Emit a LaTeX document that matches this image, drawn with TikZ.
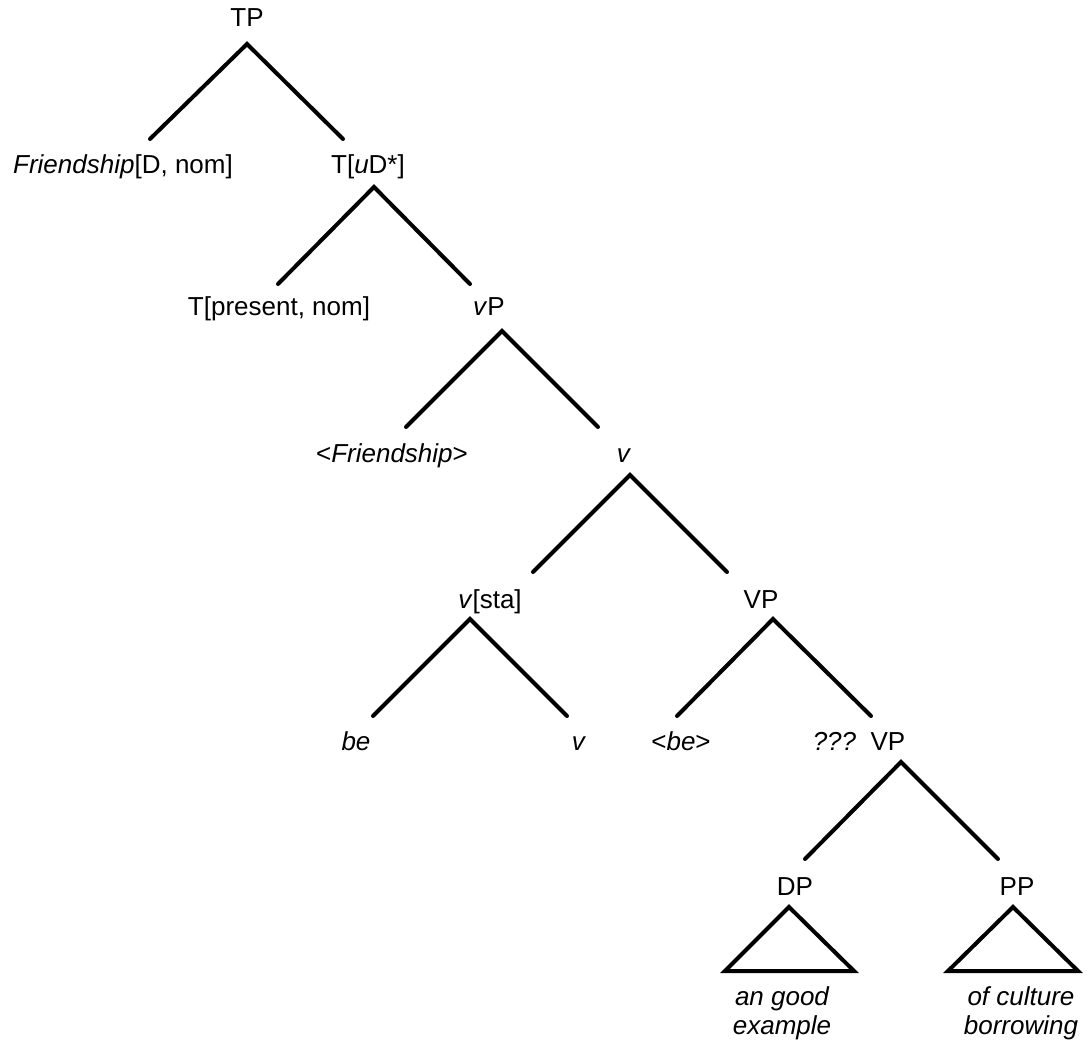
\documentclass[tikz,border=0pt]{standalone}
\usepackage{fontspec}
\setmainfont{Liberation Sans}
\begin{document}
\begin{tikzpicture}[x=1pt,y=-1pt,
  lbl/.style={anchor=base,inner sep=0pt,font=\fontsize{26}{29}\selectfont},
  leaf/.style={anchor=north,inner sep=0pt,align=center,font=\fontsize{26}{29}\selectfont\itshape},
  branch/.style={line width=4pt,line cap=round,line join=miter}]
\useasboundingbox (0,0) rectangle (1087,1044);

% ---- labels ----
\node[lbl] (tp)     at (247,27)  {TP};
\node[lbl] (fr)     at (123,173) {\textit{Friendship}[D, nom]};
\node[lbl] (tud)    at (368,173) {T[\textit{u}D*]};
\node[lbl] (tpres)  at (279,315) {T[present, nom]};
\node[lbl] (vp)     at (489,315) {\textit{v}P};
\node[lbl] (frt)    at (392,462) {<\textit{Friendship}>};
\node[lbl] (vbar)   at (624,462) {\textit{v}};
\node[lbl] (vsta)   at (490,608) {\textit{v}[sta]};
\node[lbl] (VPa)    at (761,608) {VP};
\node[lbl] (be)     at (356,750) {\textit{be}};
\node[lbl] (vleaf)  at (579,750) {\textit{v}};
\node[lbl] (bet)    at (681,750) {<\textit{be}>};
\node[lbl] (VPb)    at (859,750) {\textit{???}\ \ VP};
\node[lbl] (dp)     at (795,895) {DP};
\node[lbl] (pp)     at (1017,895) {PP};
\node[leaf] (dpt)   at (782,986) {an good\\example};
\node[leaf] (ppt)   at (1021,986) {of culture\\borrowing};

% ---- branch points ----
\coordinate (tp-a) at (247,44);   \coordinate (tp-l) at (150,139);  \coordinate (tp-r) at (343,139);
\coordinate (tud-a) at (374,187); \coordinate (tud-l) at (278,284); \coordinate (tud-r) at (470,284);
\coordinate (vp-a) at (502,331);  \coordinate (vp-l) at (406,427);  \coordinate (vp-r) at (598,427);
\coordinate (vb-a) at (630,475);  \coordinate (vb-l) at (533,572);  \coordinate (vb-r) at (727,572);
\coordinate (vs-a) at (470,619);  \coordinate (vs-l) at (373,716);  \coordinate (vs-r) at (567,716);
\coordinate (va-a) at (773,619);  \coordinate (va-l) at (677,716);  \coordinate (va-r) at (871,716);
\coordinate (vb2-a) at (901,762); \coordinate (vb2-l) at (805,859); \coordinate (vb2-r) at (998,859);
\coordinate (dp-a) at (789,907);  \coordinate (dp-l) at (725,971);  \coordinate (dp-r) at (854,971);
\coordinate (pp-a) at (1013,907); \coordinate (pp-l) at (948,971);  \coordinate (pp-r) at (1078,971);

% ---- branches ----
\draw[branch] (tp-l) -- (tp-a) -- (tp-r);
\draw[branch] (tud-l) -- (tud-a) -- (tud-r);
\draw[branch] (vp-l) -- (vp-a) -- (vp-r);
\draw[branch] (vb-l) -- (vb-a) -- (vb-r);
\draw[branch] (vs-l) -- (vs-a) -- (vs-r);
\draw[branch] (va-l) -- (va-a) -- (va-r);
\draw[branch] (vb2-l) -- (vb2-a) -- (vb2-r);

% ---- collapsed constituents ----
\draw[branch] (dp-a) -- (dp-l) -- (dp-r) -- cycle;
\draw[branch] (pp-a) -- (pp-l) -- (pp-r) -- cycle;
\end{tikzpicture}
\end{document}
